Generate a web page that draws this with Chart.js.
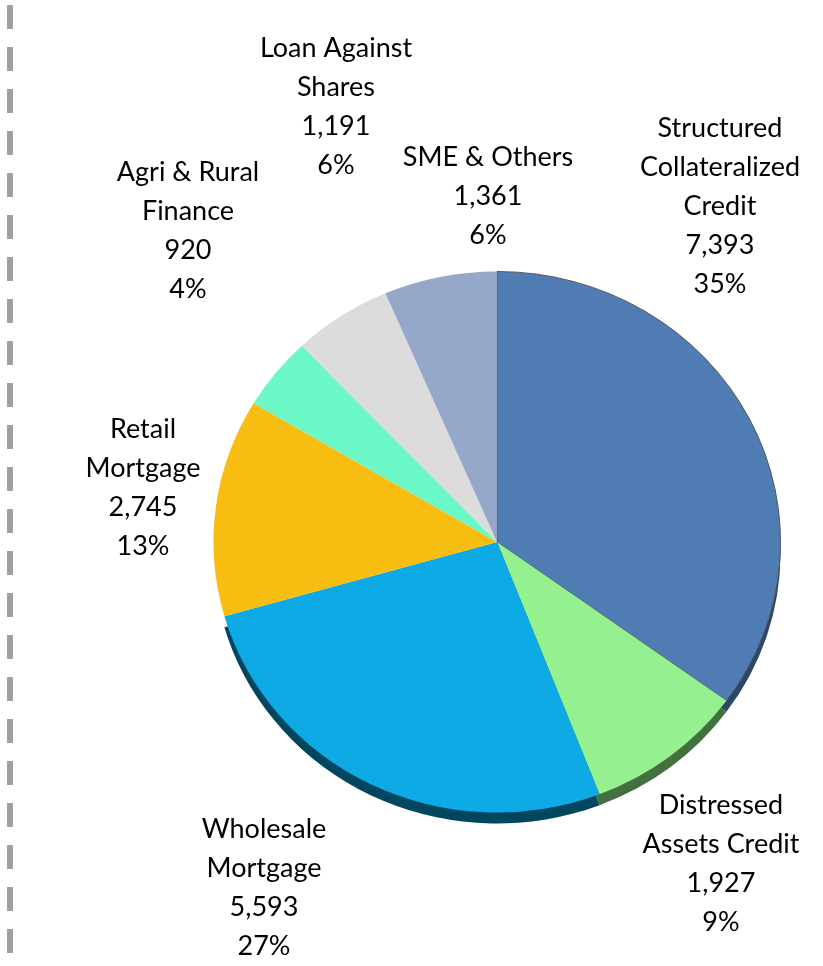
<!DOCTYPE html>
<html>
<head>
<meta charset="utf-8">
<script src="https://cdn.jsdelivr.net/npm/chart.js@4.4.1/dist/chart.umd.min.js"></script>
<style>
  html, body { margin: 0; padding: 0; background: #fff; }
  #wrap { width: 823px; height: 966px; position: relative; }
</style>
</head>
<body>
<div id="wrap"><canvas id="portfolioChart"></canvas></div>
<script>
// Portfolio split (clockwise from 12 o'clock)
const categories = [
    ['Structured', 'Collateralized', 'Credit'],
    ['Distressed', 'Assets Credit'],
    ['Wholesale', 'Mortgage'],
    ['Retail', 'Mortgage'],
    ['Agri & Rural', 'Finance'],
    ['Loan Against', 'Shares'],
    ['SME & Others']
];
const amounts = [7393, 1927, 5593, 2745, 920, 1191, 1361];
// shares as printed on the original chart
const shareLabels = ['35%', '9%', '27%', '13%', '4%', '6%', '6%'];

const sliceColors = ['#4f7db3', '#95f18f', '#0eaae6', '#f7bd10', '#6cf7c9', '#dcdcdc', '#95a8ca'];
// only the lower-right slices show a visible rim
const rimColors = ['#2c4767', '#44703f', '#00465f', null, null, null, null];

// label block centres, offset from the pie centre in px
const labelOffsets = [
    [223, -336], [224, 322], [-233, 346], [-354, -54],
    [-309, -311], [-161, -435], [-9, -346]
];

// the pie is a bit squashed vertically (tilted look)
const tilt = 271 / 284;
const rimDepth = 11;

// dashed separator on the left edge
const dashedLine = {
    id: 'dashedLine',
    beforeDraw(chart) {
        const ctx = chart.ctx;
        ctx.save();
        ctx.strokeStyle = '#a0a0a0';
        ctx.lineWidth = 6;
        ctx.setLineDash([24, 18]);
        ctx.beginPath();
        ctx.moveTo(10, 5);
        ctx.lineTo(10, chart.height);
        ctx.stroke();
        ctx.restore();
    }
};

// squash + fake 3D rim under the pie
const pieTilt = {
    id: 'pieTilt',
    beforeDatasetsDraw(chart) {
        const ctx = chart.ctx;
        const arcs = chart.getDatasetMeta(0).data;
        const cy = arcs[0].y;
        ctx.save();
        ctx.translate(0, cy);
        ctx.scale(1, tilt);
        ctx.translate(0, -cy);
        const d = rimDepth / tilt;
        arcs.forEach((arc, i) => {
            if (!rimColors[i]) return;
            const p = arc.getProps(['x', 'y', 'startAngle', 'endAngle', 'outerRadius']);
            ctx.fillStyle = rimColors[i];
            ctx.beginPath();
            ctx.moveTo(p.x, p.y + d);
            ctx.arc(p.x, p.y + d, p.outerRadius, p.startAngle, p.endAngle);
            ctx.closePath();
            ctx.fill();
        });
    },
    afterDatasetsDraw(chart) {
        chart.ctx.restore();
    }
};

// category / value / percent labels outside the pie
const outsideLabels = {
    id: 'outsideLabels',
    afterDatasetsDraw(chart) {
        const ctx = chart.ctx;
        const arc0 = chart.getDatasetMeta(0).data[0];
        const cx = arc0.x, cy = arc0.y;
        const lineH = 39;
        ctx.save();
        ctx.fillStyle = '#000';
        ctx.font = '27px Lato, "Open Sans", sans-serif';
        ctx.textAlign = 'center';
        ctx.textBaseline = 'middle';
        amounts.forEach((v, i) => {
            const lines = categories[i].concat([v.toLocaleString('en-US'), shareLabels[i]]);
            const x = cx + labelOffsets[i][0];
            const yTop = cy + labelOffsets[i][1] - (lines.length - 1) * lineH / 2;
            lines.forEach((t, k) => ctx.fillText(t, x, yTop + k * lineH));
        });
        ctx.restore();
    }
};

const ctx = document.getElementById('portfolioChart').getContext('2d');
new Chart(ctx, {
    type: 'pie',
    data: {
        labels: categories.map(c => c.join(' ')),
        datasets: [{
            data: amounts,
            backgroundColor: sliceColors,
            borderColor: ['#555555', 'rgba(0,0,0,0)', 'rgba(0,0,0,0)', 'rgba(0,0,0,0)', 'rgba(0,0,0,0)', 'rgba(0,0,0,0)', 'rgba(0,0,0,0)'],
            borderWidth: [1, 0, 0, 0, 0, 0, 0]
        }]
    },
    options: {
        responsive: true,
        maintainAspectRatio: false,
        animation: false,
        layout: {
            padding: { left: 213, right: 42, top: 258, bottom: 140 }
        },
        plugins: {
            legend: { display: false },
            tooltip: { enabled: false }
        }
    },
    plugins: [dashedLine, pieTilt, outsideLabels]
});
</script>
</body>
</html>
